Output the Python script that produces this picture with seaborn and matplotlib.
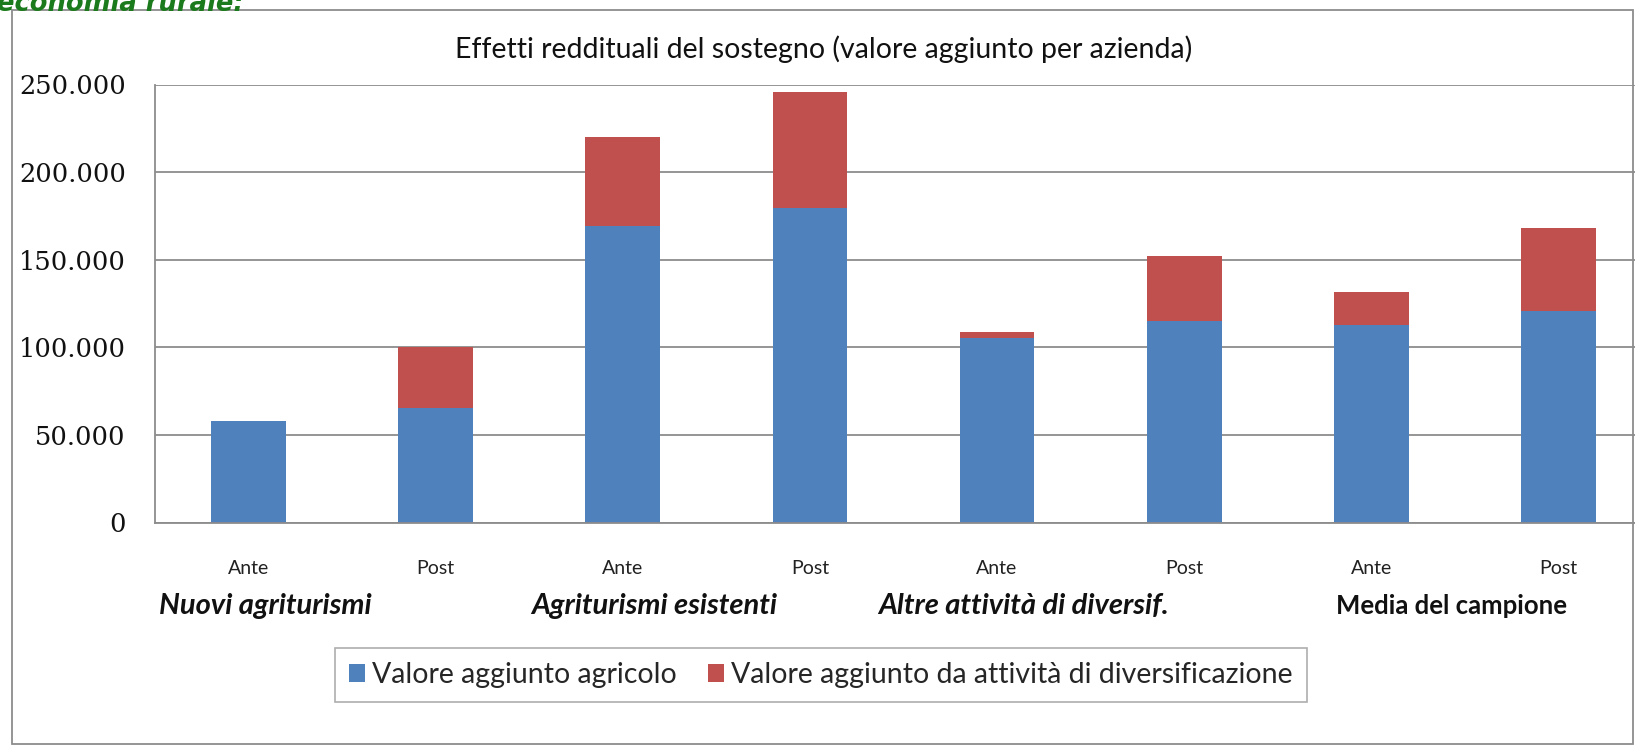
import matplotlib
matplotlib.use("Agg")
import matplotlib.pyplot as plt
import pandas as pd
import seaborn as sns
from matplotlib.patches import Rectangle, Patch
from matplotlib.ticker import FixedLocator, FuncFormatter

# ---------------- dati ----------------
gruppi = ["Nuovi agriturismi", "Agriturismi esistenti", "Altre attività di diversif.", "Media del campione"]
fasi = ["Ante", "Post"]
va_agricolo = [58000, 65500, 169000, 179500, 105500, 115000, 112500, 121000]
va_diversif = [0, 34500, 51000, 66500, 3500, 37000, 19000, 47000]
y_ticks = [0, 50000, 100000, 150000, 200000, 250000]

serie = ["Valore aggiunto agricolo", "Valore aggiunto da attività di diversificazione"]
colori = ["#4F81BD", "#C0504D"]

chiavi = [f"{g} {f}" for g in gruppi for f in fasi]
df = pd.DataFrame({
    "chiave": chiavi,
    "fase": [f for g in gruppi for f in fasi],
    "agricolo": va_agricolo,
    "diversif": va_diversif,
})
df["totale"] = df["agricolo"] + df["diversif"]

# ---------------- figura ----------------
sns.set_style("white")
plt.rcParams["font.family"] = ["Lato", "DejaVu Sans"]

W, H = 1635, 748
fig = plt.figure(figsize=(W / 100, H / 100), dpi=100)
ax = fig.add_axes([155 / W, (H - 522.5) / H, (1652 - 155) / W, 438 / H])

# barre impilate: prima il totale (rosso) poi la parte agricola (blu) sopra
sns.barplot(data=df, x="chiave", y="totale", order=chiavi, color=colori[1],
            width=0.4, saturation=1, linewidth=0, ax=ax)
sns.barplot(data=df, x="chiave", y="agricolo", order=chiavi, color=colori[0],
            width=0.4, saturation=1, linewidth=0, ax=ax)

ax.set_xlim(-0.5, len(chiavi) - 0.5)
ax.set_ylim(0, 250000)
ax.set_xlabel("")
ax.set_ylabel("")

ax.yaxis.set_major_locator(FixedLocator(y_ticks))
ax.yaxis.set_major_formatter(FuncFormatter(lambda v, p: f"{int(v):,}".replace(",", ".")))
ax.grid(axis="y", color="#8c8c8c", linewidth=1.3)
ax.set_axisbelow(True)

ax.set_xticks(range(len(chiavi)))
ax.set_xticklabels(df["fase"])
ax.xaxis.set_minor_locator(FixedLocator([i - 0.5 for i in range(len(chiavi) + 1)]))
ax.tick_params(axis="x", which="major", length=0, pad=27, labelsize=14, labelcolor="#222222")
ax.tick_params(axis="x", which="minor", length=6, width=1, color="#8c8c8c", direction="out")
ax.tick_params(axis="y", length=9, width=1, color="#8c8c8c", direction="out", pad=12)
for lab in ax.get_yticklabels():
    lab.set_fontfamily("DejaVu Serif")
    lab.set_fontsize(18.5)
    lab.set_color("#111111")

for s in ["top", "right"]:
    ax.spines[s].set_visible(False)
for s in ["left", "bottom"]:
    ax.spines[s].set_color("#8c8c8c")
    ax.spines[s].set_linewidth(1.3)

# etichette dei gruppi
pos_gruppi = [0.09, 2.17, 4.14, 6.43]
for i, g in enumerate(gruppi):
    stile = "normal" if i == 3 else "italic"
    ax.text(pos_gruppi[i], -0.19, g, transform=ax.get_xaxis_transform(),
            ha="center", va="center", fontsize=18.5 if i == 3 else 21, fontweight="bold",
            fontstyle=stile, color="#111111")

# titolo del grafico
fig.text(824 / W, 1 - 49 / H, "Effetti reddituali del sostegno (valore aggiunto per azienda)",
         ha="center", va="center", fontsize=20.5, color="#111111")

# legenda
maniglie = [Patch(facecolor=c, edgecolor="none") for c in colori]
leg = fig.legend(maniglie, serie, loc="center", bbox_to_anchor=(821 / W, 1 - 675 / H),
                 ncol=2, frameon=True, fancybox=False, fontsize=20.5,
                 handlelength=0.55, handleheight=0.55, handletextpad=0.25, columnspacing=1.1,
                 borderpad=0.5)
leg.get_frame().set_edgecolor("#9a9a9a")
leg.get_frame().set_linewidth(1.2)

# cornice esterna e titolo tagliato in alto
fig.patches.append(Rectangle((12 / W, 4 / H), (W - 14) / W, (H - 14) / H, transform=fig.transFigure,
                             fill=False, edgecolor="#8c8c8c", linewidth=1.3))
fig.text(-3 / W, 1 - 11 / H, "economia rurale:", ha="left", va="baseline",
         fontsize=18.5, fontweight="bold", fontstyle="italic", color="#1B7A1B",
         family="DejaVu Sans")

fig.savefig("out.png", dpi=100, facecolor="white")
